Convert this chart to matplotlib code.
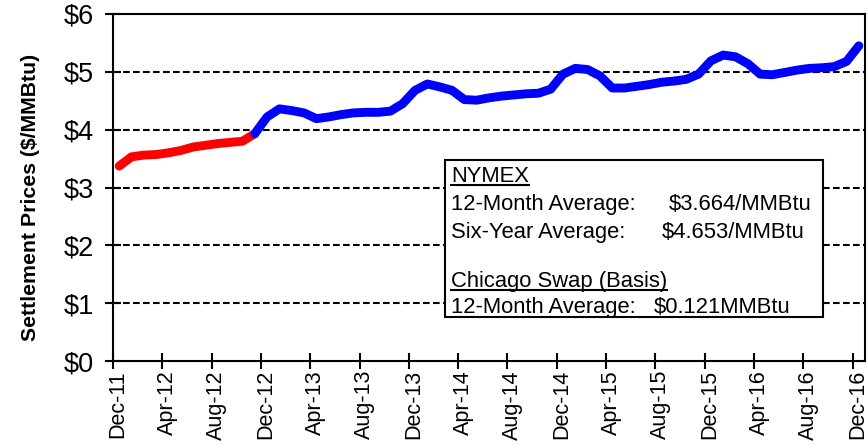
import matplotlib
matplotlib.use("Agg")
import matplotlib.pyplot as plt
import matplotlib.patches as patches
import matplotlib.transforms as mtransforms
import numpy as np

plt.rcParams['font.family'] = ['Liberation Sans', 'DejaVu Sans']

# ---- data ----
tick_labels = ["Dec-11", "Apr-12", "Aug-12", "Dec-12", "Apr-13", "Aug-13", "Dec-13",
               "Apr-14", "Aug-14", "Dec-14", "Apr-15", "Aug-15", "Dec-15", "Apr-16",
               "Aug-16", "Dec-16"]
y_tick_labels = ["$0", "$1", "$2", "$3", "$4", "$5", "$6"]
prices = [3.37, 3.53, 3.56, 3.57, 3.60, 3.64, 3.70, 3.73, 3.76, 3.78, 3.80, 3.93,
          4.22, 4.36, 4.33, 4.29, 4.19, 4.22, 4.26, 4.29, 4.30, 4.30, 4.32, 4.45,
          4.68, 4.79, 4.74, 4.68, 4.52, 4.51, 4.55, 4.58, 4.60, 4.62, 4.63, 4.70,
          4.96, 5.06, 5.04, 4.93, 4.72, 4.72, 4.75, 4.78, 4.82, 4.84, 4.87, 4.96,
          5.19, 5.29, 5.26, 5.14, 4.96, 4.95, 4.99, 5.03, 5.06, 5.07, 5.09, 5.18,
          5.45]
n_red = 12  # first 12 months (12-month strip)
box_lines = [
    ("NYMEX", None, True),
    ("12-Month Average:", "$3.664/MMBtu", False),
    ("Six-Year Average:", "$4.653/MMBtu", False),
    ("Chicago Swap (Basis)", None, True),
    ("12-Month Average:", "$0.121MMBtu", False),
]

W, H = 867, 446
fig = plt.figure(figsize=(W / 100, H / 100), dpi=100)
ax = fig.add_axes([113 / W, 1 - 361 / H, (865 - 113) / W, (361 - 14) / H])

x = np.arange(len(prices)) + 0.5
ax.plot(x[:n_red], prices[:n_red], color='#FF0000', lw=6.4,
        solid_capstyle='round', solid_joinstyle='round', zorder=3)
ax.plot(x[n_red - 1:], prices[n_red - 1:], color='#0000FF', lw=6.4,
        solid_capstyle='round', solid_joinstyle='round', zorder=4)

ax.set_xlim(0, 61)
ax.set_ylim(0, 6)
ax.set_xticks(np.arange(0, 61, 4))
ax.set_xticklabels(tick_labels, rotation=90, fontsize=15.5)
ax.set_yticks(np.arange(0, 7))
ax.set_yticklabels(y_tick_labels, fontsize=19.5)
ax.tick_params(axis='both', direction='inout', length=11, width=1.5, color='black')
ax.tick_params(axis='y', pad=8)
ax.tick_params(axis='x', pad=1)

offset = mtransforms.ScaledTranslation(5 / 100, 0, fig.dpi_scale_trans)
for lab in ax.get_xticklabels():
    lab.set_transform(lab.get_transform() + offset)

for v in range(1, 6):
    ax.axhline(v, color='black', lw=1.5, dashes=(3.2, 1.6), zorder=1)

for s in ax.spines.values():
    s.set_linewidth(1.5)
    s.set_color('black')

fig.text(31 / W, 1 - 197 / H, "Settlement Prices ($/MMBtu)", rotation=90,
         ha='center', va='center', fontsize=15.3, fontweight='bold')

# annotation box
def fx(px):
    return px / W

def fy(py):
    return 1 - py / H

rect = patches.Rectangle((fx(445), fy(317)), fx(823) - fx(445), fy(160) - fy(317),
                         transform=fig.transFigure, facecolor='white',
                         edgecolor='black', lw=1.5, zorder=5)
fig.add_artist(rect)

baselines = [182, 210, 238, 287, 313]
value_x = [None, 669, 662, None, 654]
fig.canvas.draw()
renderer = fig.canvas.get_renderer()
for (left, right, underline), yb, vx in zip(box_lines, baselines, value_x):
    t = fig.text(fx(451), fy(yb), left, ha='left', va='baseline', fontsize=15.8, zorder=6)
    if right is not None:
        fig.text(fx(vx), fy(yb), right, ha='left', va='baseline', fontsize=15.8, zorder=6)
    if underline:
        bb = t.get_window_extent(renderer=renderer)
        fig.add_artist(plt.Line2D([bb.x0 / W, bb.x1 / W], [fy(yb + 3), fy(yb + 3)],
                                  transform=fig.transFigure, color='black', lw=1.5,
                                  zorder=6))

fig.savefig("out.png", dpi=100)
